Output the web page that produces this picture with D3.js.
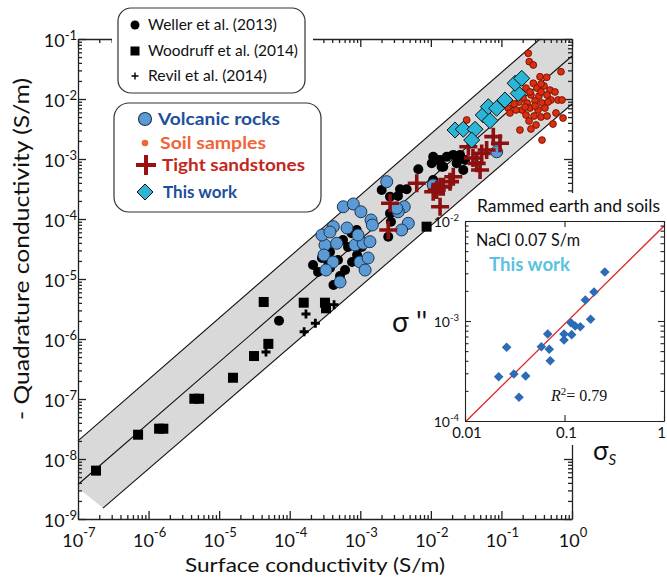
<!DOCTYPE html>
<html><head><meta charset="utf-8">
<script src="https://cdn.jsdelivr.net/npm/d3@7"></script>
<style>
body{margin:0;background:#fff}
svg{display:block;font-family:Lato,"Open Sans",sans-serif}
</style>
</head><body>
<svg id="c" width="667" height="579"></svg>
<script>
// ---------------- DATA ----------------
const xMajor = [1e-7,1e-6,1e-5,1e-4,1e-3,1e-2,1e-1,1];
const xTickExp = ["-7","-6","-5","-4","-3","-2","-1","0"];
const yMajor = [1e-9,1e-8,1e-7,1e-6,1e-5,1e-4,1e-3,1e-2,1e-1];
const yTickExp = ["-9","-8","-7","-6","-5","-4","-3","-2","-1"];

// band (lines of constant ratio sigma''/sigma_s)
const bandUpper  = [[1e-7,2.0e-8],[0.352,0.1]];
const bandCenter = [[1e-7,3.76e-9],[1,5.2e-2]];
const bandLower  = [[2.26e-7,1.52e-9],[1,8.26e-3]];
const bandArea   = [[1e-7,2.0e-8],[0.352,0.1],[0.746,0.1],[1,6.56e-2],[1,8.26e-3],[2.26e-7,1.52e-9],[1e-7,3.3e-9]];

const woodruff = [[1.8e-7,6.4e-9],[7.1e-7,2.54e-8],[1.41e-6,3.2e-8],[1.62e-6,3.2e-8],[4.45e-6,1.01e-7],[5.2e-6,1.01e-7],
  [1.57e-5,2.26e-7],[3.12e-5,5.2e-7],[4.98e-5,8.3e-7],[4.28e-5,4.14e-6],[1.58e-4,4.03e-6],[3.16e-4,4.03e-6],[3.27e-4,3.25e-6],[8.7e-3,7.45e-5]];

const revil = [[1.7e-4,2.61e-6],[1.6e-4,1.32e-6],[2.31e-4,1.83e-6],[4.61e-5,6.07e-7],[4.25e-4,3.73e-6]];

const weller = [[7.05e-5,2.02e-6],[4.17e-4,7.94e-6],[3.55e-4,1.82e-5],
  [8.9e-4,6.56e-5],[7.55e-4,5.78e-5],[5.69e-4,4.47e-5],[6.7e-4,3.41e-5],[1.05e-3,3.41e-5],[3.72e-4,2.82e-5],[4.83e-4,2.07e-5],
  [2.86e-4,2.24e-5],[2.14e-4,1.71e-5],[3.72e-4,1.52e-5],[6.08e-4,1.41e-5],[7.64e-4,1.92e-5],[2.52e-4,1.31e-5],[5.16e-4,1.12e-5],[9.0e-4,2.51e-5],
  [2.01e-3,3.04e-4],[2.64e-3,2.36e-4],[3.66e-3,3.13e-4],[4.54e-3,3.13e-4],[6.64e-3,6.73e-4],[1.03e-2,8.47e-4],[1.21e-2,9.62e-4],
  [1.42e-2,7.45e-4],[1.08e-2,4.47e-4],[2.64e-3,1.24e-4],[2.72e-3,9.02e-5],[2.49e-3,5.07e-5],[1.35e-2,9.62e-4],[1.68e-2,1.09e-3],
  [2.08e-2,1.17e-3],[2.59e-2,1.17e-3],[3.05e-2,9.62e-4],[1.08e-2,1.09e-3],[1.5e-2,7.45e-4],[2.32e-2,8.47e-4],[2.88e-2,6.56e-4],[3.42e-3,2.42e-4]];

const volcanic = [[2.37e-3,4.19e-4],[5.74e-4,1.6e-4],[7.96e-4,1.78e-4],[1.02e-3,1.32e-4],[1.42e-3,9.62e-5],[1.48e-3,7.94e-5],
  [4.2e-3,1.6e-4],[3.45e-3,1.32e-4],[4.79e-3,8.47e-5],[3.85e-3,6.56e-5],[4.15e-4,7.45e-5],[3.16e-4,3.69e-5],[4.63e-4,3.94e-5],
  [8.41e-4,3.69e-5],[1.1e-3,3.94e-5],[1.37e-3,4.19e-5],[1.08e-2,3.69e-4],[3.28e-3,1.51e-4],[8.57e-2,1.32e-3],
  [2.86e-4,5.41e-5],[3.72e-4,6.07e-5],[3.06e-4,2.51e-5],[4.1e-4,1.92e-5],[3.27e-4,1.41e-5],[9.9e-4,1.92e-5],[1.29e-3,2.24e-5],
  [1.17e-3,1.41e-5],[6.49e-4,7.08e-5],[9.3e-4,5.41e-5],[5.16e-4,8.9e-6]];

const soil = [[0.24,5.78e-2],[0.248,4.19e-2],[0.283,3.69e-2],[0.698,2.85e-2],[0.352,2.35e-2],[0.438,2.3e-2],[0.283,1.83e-2],
  [0.223,1.52e-2],[0.319,1.52e-2],[0.401,1.65e-2],[0.488,1.41e-2],[0.574,1.31e-2],[0.443,1.17e-2],[0.34,1.12e-2],[0.262,1.17e-2],
  [0.202,1.04e-2],[0.177,8.91e-3],[0.231,8.57e-3],[0.299,9.27e-3],[0.376,8.57e-3],[0.504,9.62e-3],[0.634,9.62e-3],[0.721,9.62e-3],
  [0.254,7.08e-3],[0.33,6.56e-3],[0.414,7.08e-3],[0.196,6.56e-3],[0.161,6.56e-3],[0.124,7.08e-3],[0.132,5.85e-3],[0.223,5.41e-3],
  [0.29,5.21e-3],[0.364,5.01e-3],[0.593,5.85e-3],[0.746,4.82e-3],[0.538,3.83e-3],[0.376,2.07e-3],[0.183,3.04e-3],[0.246,4.3e-3],
  [0.309,3.69e-3],[3.22e-2,4.47e-3],[0.177,1.17e-2],[0.254,1.31e-2],[0.364,1.31e-2],[0.216,7.36e-3],[0.443,5.21e-3],[0.299,7.64e-3],
  [0.457,8.91e-3],[0.151,8.26e-3],[0.262,3.16e-3],[0.364,1.78e-2]];

const tight = [[7.67e-2,2.36e-3],[9.55e-2,1.83e-3],[5.25e-2,1.24e-3],[6.17e-2,1.41e-3],[4.46e-2,8.47e-4],[4.98e-2,6.56e-4],
  [3.4e-2,1.6e-3],[2.08e-2,5.07e-4],[1.87e-2,4.19e-4],[1.35e-2,3.46e-4],[1.08e-2,2.85e-4],[1.35e-2,1.6e-4],[6.31e-3,3.94e-4],
  [2.64e-3,1.83e-4],[2.49e-3,6.56e-5],[1.21e-2,3.04e-4],[1.5e-2,3.46e-4],[3.95e-2,1.04e-3]];

const thisWork = [[2.2e-2,3.04e-3],[2.88e-2,3.13e-3],[4.23e-2,3.13e-3],[3.79e-2,2.07e-3],[5.53e-2,5.41e-3],[6.89e-2,4.35e-3],
  [6.52e-2,7.45e-3],[8.55e-2,7.0e-3],[0.112,9.62e-3],[0.173,1.24e-2],[0.156,1.83e-2],[0.194,2.21e-2]];

// inset: rammed earth and soils
const insetXMajor = [0.01,0.1,1];
const insetXLabels = ["0.01","0.1","1"];
const insetYMajor = [1e-4,1e-3,1e-2];
const insetYExp = ["-4","-3","-2"];
const insetPts = [[0.0218,2.77e-4],[0.0262,5.46e-4],[0.031,2.95e-4],[0.0407,2.82e-4],[0.0349,1.73e-4],[0.0585,5.53e-4],
  [0.0678,7.41e-4],[0.0703,5.21e-4],[0.0719,4.01e-4],[0.0989,7.41e-4],[0.0989,6.46e-4],[0.116,9.62e-4],[0.118,7.3e-4],
  [0.128,8.91e-4],[0.144,8.77e-4],[0.162,1.62e-3],[0.183,1.04e-3],[0.198,1.95e-3],[0.254,3.09e-3]];
const insetFit = [[0.0103,1e-4],[1,8.9e-3]];

const legend1 = ["Weller et al. (2013)","Woodruff et al. (2014)","Revil et al. (2014)"];
const legend2 = ["Volcanic rocks","Soil samples","Tight sandstones","This work"];

// ---------------- DRAW ----------------
const svg = d3.select("#c");
const x = d3.scaleLog().domain([1e-7,1]).range([78,572]);
const y = d3.scaleLog().domain([1e-9,1e-1]).range([519,39]);
const P = d => [x(d[0]), y(d[1])];

function minors(lo, hi){ const a=[]; for(let e=lo;e<hi;e++) for(let m=2;m<=9;m++) a.push(m*Math.pow(10,e)); return a; }

// band
svg.append("path").attr("d", d3.line()(bandArea.map(P)) + "Z").attr("fill","#d9d9d9");
[bandUpper,bandCenter,bandLower].forEach(l=>{
  svg.append("path").attr("d", d3.line()(l.map(P))).attr("stroke","#111").attr("stroke-width",1.1).attr("fill","none");
});

// axes
function axisPair(gen, scale, pos, majors, lo, hi){
  const g = svg.append("g").attr("transform", pos);
  g.call(gen(scale).tickValues(minors(lo,hi)).tickSize(-4).tickSizeOuter(0).tickFormat(""));
  g.call(gg=>gg.selectAll(".domain").remove());
  const g2 = svg.append("g").attr("transform", pos);
  g2.call(gen(scale).tickValues(majors).tickSize(-8).tickSizeOuter(0).tickFormat(""));
  [g,g2].forEach(s=>s.selectAll("line,path").attr("stroke","#222").attr("stroke-width",1.3));
}
axisPair(d3.axisBottom, x, "translate(0,519)", xMajor, -7, 0);
axisPair(d3.axisTop, x, "translate(0,39)", xMajor, -7, 0);
axisPair(d3.axisLeft, y, "translate(78,0)", yMajor, -9, -1);
axisPair(d3.axisRight, y, "translate(572,0)", yMajor, -9, -1);

function powLabel(px, py, exp, anchor, size, sup, dy){
  const t = svg.append("text").attr("x",px).attr("y",py).attr("text-anchor",anchor).attr("font-size",size).attr("fill","#111");
  t.append("tspan").text("10");
  t.append("tspan").attr("dy",dy).attr("font-size",sup).text(exp);
}
xMajor.forEach((v,i)=>powLabel(x(v)+1, 547, xTickExp[i], "middle", 18, 13, -10));
yMajor.forEach((v,i)=>powLabel(77, y(v)+8, yTickExp[i], "end", 18, 13, -7));

svg.append("text").attr("x",315).attr("y",572).attr("text-anchor","middle").attr("font-size",20)
  .attr("textLength",260).attr("lengthAdjust","spacingAndGlyphs").attr("fill","#111").text("Surface conductivity (S/m)");
svg.append("text").attr("transform","translate(29,249) rotate(-90)").attr("text-anchor","middle").attr("font-size",21)
  .attr("textLength",342).attr("lengthAdjust","spacingAndGlyphs").attr("fill","#111").text("- Quadrature conductivity (S/m)");

// markers
const crossPath = (cx,cy,h)=>`M${cx-h},${cy}H${cx+h}M${cx},${cy-h}V${cy+h}`;
const diamondPath = (cx,cy,h)=>`M${cx},${cy-h}L${cx+h},${cy}L${cx},${cy+h}L${cx-h},${cy}Z`;

svg.append("g").selectAll("rect").data(woodruff).join("rect")
  .attr("x",d=>x(d[0])-5).attr("y",d=>y(d[1])-5).attr("width",10).attr("height",10).attr("fill","#000");
svg.append("g").selectAll("circle").data(weller).join("circle")
  .attr("cx",d=>x(d[0])).attr("cy",d=>y(d[1])).attr("r",5).attr("fill","#000");
svg.append("g").selectAll("circle").data(volcanic).join("circle")
  .attr("cx",d=>x(d[0])).attr("cy",d=>y(d[1])).attr("r",6).attr("fill","#5b9bd5").attr("stroke","#1d3550").attr("stroke-width",1);
svg.append("g").selectAll("path").data(revil).join("path")
  .attr("d",d=>crossPath(x(d[0]),y(d[1]),4.5)).attr("stroke","#000").attr("stroke-width",2.8);
svg.append("g").selectAll("circle").data(soil).join("circle")
  .attr("cx",d=>x(d[0])).attr("cy",d=>y(d[1])).attr("r",3.4).attr("fill","#d8300f").attr("stroke","#7a0c00").attr("stroke-width",0.9);
svg.append("g").selectAll("path").data(tight).join("path")
  .attr("d",d=>crossPath(x(d[0]),y(d[1]),9)).attr("stroke","#8c1010").attr("stroke-width",3.6);
svg.append("g").selectAll("path").data(thisWork).join("path")
  .attr("d",d=>diamondPath(x(d[0]),y(d[1]),8)).attr("fill","#2bb5d6").attr("stroke","#111").attr("stroke-width",1);

// legend 1
svg.append("rect").attr("x",112).attr("y",32).attr("width",201).attr("height",14).attr("fill","#fff");
svg.append("rect").attr("x",118).attr("y",8).attr("width",187).attr("height",85).attr("rx",13)
  .attr("fill","#fff").attr("stroke","#333").attr("stroke-width",1.2);
const l1y = [25,51,76], l1w=[129,150,119];
legend1.forEach((t,i)=>svg.append("text").attr("x",148).attr("y",l1y[i]+5).attr("font-size",15)
  .attr("textLength",l1w[i]).attr("lengthAdjust","spacingAndGlyphs").attr("fill","#111").text(t));
svg.append("circle").attr("cx",135).attr("cy",l1y[0]).attr("r",4.5).attr("fill","#000");
svg.append("rect").attr("x",130.5).attr("y",l1y[1]-4.5).attr("width",9).attr("height",9).attr("fill","#000");
svg.append("path").attr("d",crossPath(135,l1y[2],3.5)).attr("stroke","#000").attr("stroke-width",1.4);

// legend 2
svg.append("rect").attr("x",114).attr("y",103).attr("width",207).attr("height",109).attr("rx",15)
  .attr("fill","#fff").attr("stroke","#333").attr("stroke-width",1.2);
const l2y=[119,143,165,192], l2x=[158,160,162,163], l2w=[122,106,143,74];
const l2c=["#1d4f9c","#f0643a","#c4261c","#1d4f9c"];
legend2.forEach((t,i)=>svg.append("text").attr("x",l2x[i]).attr("y",l2y[i]+6).attr("font-size",17).attr("font-weight","bold")
  .attr("textLength",l2w[i]).attr("lengthAdjust","spacingAndGlyphs").attr("fill",l2c[i]).text(t));
svg.append("circle").attr("cx",145).attr("cy",l2y[0]).attr("r",6.5).attr("fill","#5b9bd5").attr("stroke","#1d3550").attr("stroke-width",1.1);
svg.append("circle").attr("cx",145).attr("cy",l2y[1]).attr("r",3.3).attr("fill","#f0643a");
svg.append("path").attr("d",crossPath(146,l2y[2],10)).attr("stroke","#9c1010").attr("stroke-width",4);
svg.append("path").attr("d",diamondPath(145,l2y[3],8)).attr("fill","#2bb5d6").attr("stroke","#111").attr("stroke-width",1);

// ---------------- INSET ----------------
svg.append("rect").attr("x",470).attr("y",193).attr("width",197).attr("height",252).attr("fill","#fff");
const ix = d3.scaleLog().domain([0.01,1]).range([465,664]);
const iy = d3.scaleLog().domain([1e-4,1e-2]).range([421,221]);

svg.append("text").attr("x",477).attr("y",212).attr("font-size",17).attr("textLength",183)
  .attr("lengthAdjust","spacingAndGlyphs").attr("fill","#111").text("Rammed earth and soils");

const ig = svg.append("g");
ig.append("rect").attr("x",465).attr("y",221).attr("width",199).attr("height",200).attr("fill","#fff");
svg.append("defs").append("clipPath").attr("id","ic").append("rect").attr("x",465).attr("y",221).attr("width",199).attr("height",200);
ig.append("path").attr("d",d3.line()(insetFit.map(d=>[ix(d[0]),iy(d[1])]))).attr("clip-path","url(#ic)")
  .attr("stroke","#e3211c").attr("stroke-width",1.3).attr("fill","none");
ig.selectAll("path.dm").data(insetPts).join("path").attr("class","dm")
  .attr("d",d=>diamondPath(ix(d[0]),iy(d[1]),4.8)).attr("fill","#2c6bb5");

function insetAxis(gen, scale, pos, majors, minorVals){
  const g = svg.append("g").attr("transform",pos);
  if(minorVals) g.call(gen(scale).tickValues(minorVals).tickSize(-3.5).tickSizeOuter(0).tickFormat(""));
  g.call(gg=>gg.selectAll(".domain").remove());
  const g2 = svg.append("g").attr("transform",pos);
  g2.call(gen(scale).tickValues(majors).tickSize(-6).tickSizeOuter(0).tickFormat(""));
  [g,g2].forEach(s=>s.selectAll("line,path").attr("stroke","#222").attr("stroke-width",1.1));
}
const iyMinor = []; for(let e=-4;e<-2;e++) for(let m=2;m<=9;m++) iyMinor.push(m*Math.pow(10,e));
insetAxis(d3.axisLeft, iy, "translate(465,0)", insetYMajor, iyMinor);
insetAxis(d3.axisRight, iy, "translate(664,0)", insetYMajor, iyMinor);
insetAxis(d3.axisBottom, ix, "translate(0,421)", insetXMajor, null);
insetAxis(d3.axisTop, ix, "translate(0,221)", insetXMajor, null);

insetYMajor.forEach((v,i)=>{
  const t = svg.append("text").attr("x",459).attr("y",iy(v)+6).attr("text-anchor","end").attr("font-size",14).attr("fill","#111");
  t.append("tspan").text("10"); t.append("tspan").attr("dy",-6).attr("font-size",9.5).text(insetYExp[i]);
});
insetXMajor.forEach((v,i)=>{
  const last = i === insetXMajor.length-1;
  svg.append("text").attr("x", last ? 666 : ix(v)+2).attr("y",438).attr("text-anchor", last ? "end" : "middle")
    .attr("font-size",15).attr("fill","#111").text(insetXLabels[i]);
});

svg.append("text").attr("x",476).attr("y",246).attr("font-size",17).attr("textLength",104)
  .attr("lengthAdjust","spacingAndGlyphs").attr("fill","#111").text("NaCl 0.07 S/m");
svg.append("text").attr("x",489).attr("y",271).attr("font-size",18).attr("font-weight","bold").attr("textLength",81)
  .attr("lengthAdjust","spacingAndGlyphs").attr("fill","#5bc3e0").text("This work");
const rt = svg.append("text").attr("x",551).attr("y",401).attr("font-size",16)
  .attr("font-family","'Liberation Serif','Times New Roman',serif").attr("fill","#111");
rt.append("tspan").attr("font-style","italic").text("R");
rt.append("tspan").attr("dy",-6).attr("font-size",11).text("2");
rt.append("tspan").attr("dy",6).text("= 0.79");

svg.append("text").attr("x",392).attr("y",332).attr("font-size",28).attr("fill","#111").text("σ ''");
const ss = svg.append("text").attr("x",593).attr("y",460).attr("font-size",26).attr("fill","#111");
ss.append("tspan").text("σ");
ss.append("tspan").attr("dy",5).attr("font-size",15).attr("font-style","italic").text("S");
</script>
</body></html>
